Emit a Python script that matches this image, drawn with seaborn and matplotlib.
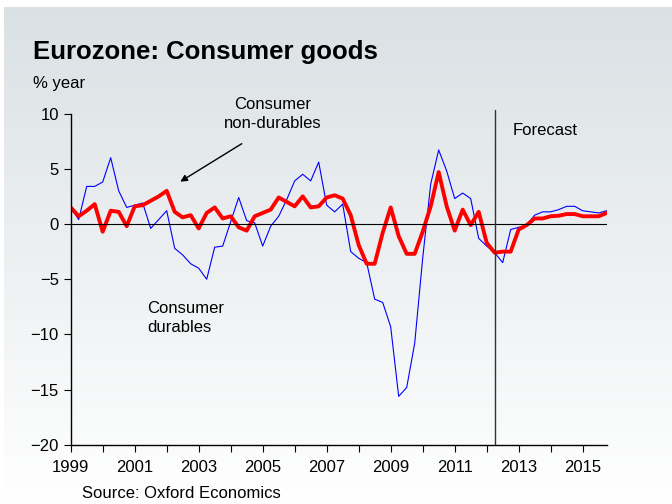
import numpy as np
import pandas as pd
import seaborn as sns
import matplotlib.pyplot as plt

# quarterly, 1999Q1 .. 2015Q4 (% year)
durables = [1.5, 0.4, 3.4, 3.4, 3.8, 6.0, 3.0, 1.5, 1.7, 1.9, -0.4, 0.4,
            1.2, -2.2, -2.8, -3.6, -4.0, -5.0, -2.1, -2.0, 0.2, 2.4, 0.3, 0.1,
            -2.0, -0.2, 0.7, 2.2, 3.9, 4.5, 3.9, 5.6, 1.7, 1.1, 1.8, -2.5,
            -3.1, -3.5, -6.8, -7.1, -9.3, -15.6, -14.8, -10.8, -3.1, 3.6, 6.7, 4.8,
            2.3, 2.8, 2.3, -1.3, -2.0, -2.6, -3.5, -0.5, -0.3, -0.1, 0.8, 1.1,
            1.1, 1.3, 1.6, 1.6, 1.2, 1.1, 1.0, 1.2]
non_durables = [1.5, 0.7, 1.2, 1.8, -0.7, 1.2, 1.1, -0.2, 1.6, 1.7, 2.1, 2.5,
                3.0, 1.1, 0.6, 0.8, -0.4, 1.0, 1.5, 0.5, 0.7, -0.3, -0.6, 0.7,
                1.0, 1.3, 2.4, 2.0, 1.6, 2.5, 1.5, 1.6, 2.4, 2.6, 2.3, 0.8,
                -1.9, -3.6, -3.6, -0.8, 1.5, -1.1, -2.7, -2.7, -0.7, 1.6, 4.7, 1.6,
                -0.6, 1.3, -0.1, 1.1, -1.7, -2.6, -2.5, -2.5, -0.5, -0.1, 0.5, 0.5,
                0.7, 0.75, 0.9, 0.9, 0.7, 0.7, 0.7, 1.0]
years = 1999 + np.arange(len(durables)) * 0.25
year_ticks = list(range(1999, 2016))
year_labels = [str(y) if (y - 1999) % 2 == 0 else "" for y in year_ticks]
forecast_start = 2012.25

df = pd.DataFrame({"year": years, "durables": durables, "non_durables": non_durables})

sns.set_style("white")
plt.rcParams["font.family"] = ["Liberation Sans", "DejaVu Sans"]
plt.rcParams["text.color"] = "black"
plt.rcParams["xtick.color"] = "black"
plt.rcParams["ytick.color"] = "black"

fig = plt.figure(figsize=(6.72, 5.04), dpi=100)

# background gradient
bg = fig.add_axes([0.006, 0, 0.994, 0.986])
grad = np.linspace(0, 1, 256).reshape(-1, 1)
top = np.array([0.855, 0.882, 0.894])
bot = np.array([1.0, 1.0, 1.0])
img = top + (bot - top) * grad[:, :, None] * np.ones((1, 1, 3))
bg.imshow(img, aspect="auto", extent=[0, 1, 0, 1], origin="upper")
bg.axis("off")

ax = fig.add_axes([0.1052, 0.1171, 0.7976, 0.6577])
ax.patch.set_alpha(0)
sns.lineplot(data=df, x="year", y="durables", ax=ax, color="#0000ff", linewidth=0.8)
sns.lineplot(data=df, x="year", y="non_durables", ax=ax, color="#ff0000", linewidth=2.8)

ax.set_xlim(1999, 2015.75)
ax.set_ylim(-20, 10)
ax.set_yticks([-20, -15, -10, -5, 0, 5, 10])
ax.set_xticks(year_ticks)
ax.set_xticklabels(year_labels)
ax.set_xlabel("")
ax.set_ylabel("")
ax.axhline(0, color="black", linewidth=0.8)
ax.axvline(forecast_start, ymin=0, ymax=1.01, color="#333333", linewidth=1.0, clip_on=False)

for s in ["top", "right"]:
    ax.spines[s].set_visible(False)
for s in ["left", "bottom"]:
    ax.spines[s].set_color("black")
    ax.spines[s].set_linewidth(1.0)
ax.tick_params(axis="both", direction="out", length=5, width=0.8, color="black",
               labelsize=12, labelcolor="black", left=True, bottom=True)
ax.tick_params(axis="x", pad=6)

fig.text(0.049, 0.896, "Eurozone: Consumer goods", fontsize=18.5, fontweight="bold",
         va="center", color="black")
fig.text(0.049, 0.835, "% year", fontsize=12, va="center")
ax.text(2005.3, 9.95, "Consumer\nnon-durables", fontsize=12, ha="center", va="center",
        linespacing=1.35)
ax.text(2001.38, -8.5, "Consumer\ndurables", fontsize=12, ha="left", va="center",
        linespacing=1.35)
ax.text(2012.8, 8.5, "Forecast", fontsize=12, ha="left", va="center")
ax.annotate("", xy=(2002.35, 3.7), xytext=(2004.42, 7.4),
            arrowprops=dict(arrowstyle="-|>", color="black", lw=1.0, mutation_scale=10))
fig.text(0.122, 0.021, "Source: Oxford Economics", fontsize=12, va="center")

fig.savefig("out.png", dpi=100)
